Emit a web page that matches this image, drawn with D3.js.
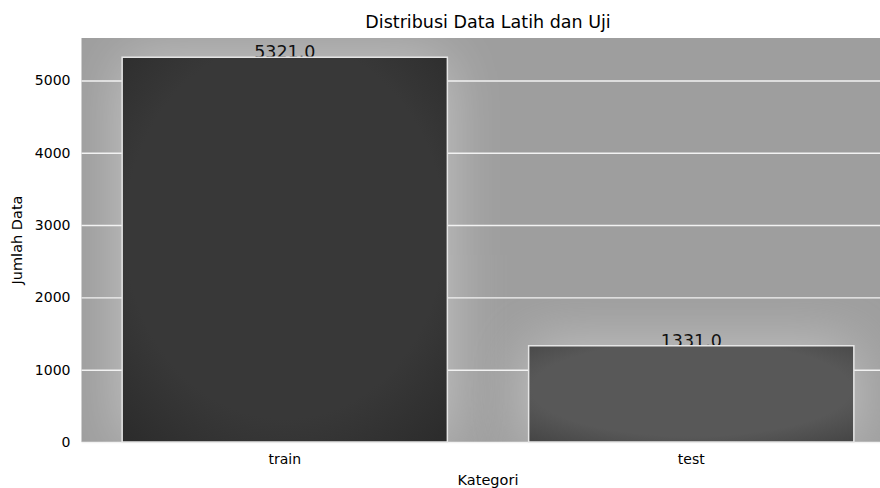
<!DOCTYPE html>
<html>
<head>
<meta charset="utf-8">
<script src="https://cdn.jsdelivr.net/npm/d3@7"></script>
<style>
  html, body { margin: 0; padding: 0; background: #ffffff; }
  svg { display: block; font-family: "DejaVu Sans", sans-serif; }
</style>
</head>
<body>
<svg id="chart" width="880" height="488"></svg>
<script>
// Data
const categories = ["train", "test"];
const counts = [5321, 1331];
const yTicks = [0, 1000, 2000, 3000, 4000, 5000];
const barFills = ["#383838", "#585858"];
const barEdges = ["#2c2c2c", "#464646"];

const W = 880, H = 488;
const plot = { left: 81.5, right: 894.5, top: 38, bottom: 442 };

const svg = d3.select("#chart");
const defs = svg.append("defs");

defs.append("clipPath").attr("id", "plotClip")
  .append("rect")
  .attr("x", plot.left).attr("y", plot.top)
  .attr("width", plot.right - plot.left).attr("height", plot.bottom - plot.top);

defs.append("filter").attr("id", "halo")
  .attr("x", "-50%").attr("y", "-50%").attr("width", "200%").attr("height", "200%")
  .append("feGaussianBlur").attr("stdDeviation", 30);

// Darkened rim inside each bar
categories.forEach((c, i) => {
  const g = defs.append("radialGradient").attr("id", "barGrad" + i)
    .attr("cx", "50%").attr("cy", "45%").attr("r", "72%");
  g.append("stop").attr("offset", "0%").attr("stop-color", barFills[i]);
  g.append("stop").attr("offset", "68%").attr("stop-color", barFills[i]);
  g.append("stop").attr("offset", "100%").attr("stop-color", barEdges[i]);
});

const x = d3.scaleBand()
  .domain(categories)
  .range([plot.left, plot.right])
  .paddingInner(0.2)
  .paddingOuter(0.1);

const y = d3.scaleLinear()
  .domain([0, d3.max(counts) * 1.05])
  .range([plot.bottom, plot.top]);

const data = categories.map((c, i) => ({ cat: c, value: counts[i], i }));

// Axes background
svg.append("rect")
  .attr("x", plot.left).attr("y", plot.top)
  .attr("width", plot.right - plot.left).attr("height", plot.bottom - plot.top)
  .attr("fill", "#9e9e9e");

// Soft light glow surrounding the bars
svg.append("g").attr("clip-path", "url(#plotClip)")
  .selectAll("rect").data(data).join("rect")
  .attr("x", d => x(d.cat))
  .attr("y", d => y(d.value))
  .attr("width", x.bandwidth())
  .attr("height", d => plot.bottom - y(d.value))
  .attr("fill", "#ffffff")
  .attr("opacity", 0.42)
  .attr("filter", "url(#halo)");

// Grid lines and y tick labels
const yAxis = d3.axisLeft(y).tickValues(yTicks).tickSize(-(plot.right - plot.left)).tickPadding(11).tickFormat(d3.format("d"));
const gy = svg.append("g").attr("transform", `translate(${plot.left},0)`).call(yAxis);
gy.select(".domain").remove();
gy.selectAll(".tick line").attr("stroke", "#f2f2f2").attr("stroke-width", 1.4);
gy.selectAll(".tick text").attr("fill", "#000").attr("font-size", 14).attr("font-family", "DejaVu Sans");

// Value labels (drawn beneath the bars)
svg.append("g").selectAll("text").data(data).join("text")
  .attr("x", d => x(d.cat) + x.bandwidth() / 2)
  .attr("y", d => y(d.value) + 1)
  .attr("text-anchor", "middle")
  .attr("font-size", 17.5)
  .attr("fill", "#111")
  .text(d => d.value.toFixed(1));

// Bars
svg.append("g").selectAll("rect").data(data).join("rect")
  .attr("x", d => x(d.cat))
  .attr("y", d => y(d.value))
  .attr("width", x.bandwidth())
  .attr("height", d => plot.bottom - y(d.value))
  .attr("fill", d => `url(#barGrad${d.i})`)
  .attr("stroke", "#e6e6e6")
  .attr("stroke-width", 1.5);

// X axis labels
const xAxis = d3.axisBottom(x).tickSize(0).tickPadding(12);
const gx = svg.append("g").attr("transform", `translate(0,${plot.bottom})`).call(xAxis);
gx.select(".domain").remove();
gx.selectAll(".tick text").attr("fill", "#000").attr("font-size", 14).attr("font-family", "DejaVu Sans");

// Titles
const cx = (plot.left + plot.right) / 2;
svg.append("text")
  .attr("x", cx).attr("y", 28)
  .attr("text-anchor", "middle").attr("font-size", 17.5).attr("fill", "#000")
  .text("Distribusi Data Latih dan Uji");

svg.append("text")
  .attr("x", cx).attr("y", 485)
  .attr("text-anchor", "middle").attr("font-size", 14.5).attr("fill", "#000")
  .text("Kategori");

svg.append("text")
  .attr("transform", `translate(22,${(plot.top + plot.bottom) / 2}) rotate(-90)`)
  .attr("text-anchor", "middle").attr("font-size", 14.5).attr("fill", "#000")
  .text("Jumlah Data");
</script>
</body>
</html>
